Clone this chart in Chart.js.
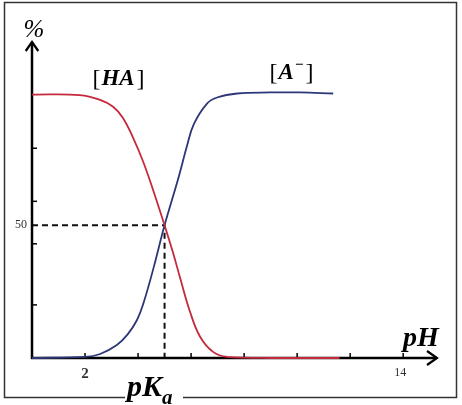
<!DOCTYPE html>
<html>
<head>
<meta charset="utf-8">
<script src="https://cdn.jsdelivr.net/npm/chart.js@4"></script>
<style>
  html, body { margin: 0; padding: 0; background: #fff; }
  canvas { display: block; }
</style>
</head>
<body>
<canvas id="chart" width="462" height="405"></canvas>
<script>
// [HA] fraction vs pH
const phHA = [0, 1.8, 2.57, 3.06, 3.43, 3.81, 4.19, 4.57, 5.0, 5.32, 5.58, 5.96, 6.34, 6.83, 7.36, 9.0, 11.6];
const pctHA = [99.2, 99.0, 97.2, 94.6, 90.4, 83.0, 74.0, 63.2, 50, 39.6, 30.4, 17.4, 8.0, 2.3, 0.4, 0, 0];

// [A-] fraction vs pH
const phA = [0, 2.0, 2.57, 3.2, 3.6, 3.96, 4.2, 4.6, 5.0, 5.5, 5.85, 6.1, 6.6, 6.98, 7.74, 8.98, 10.1, 11.36];
const pctA = [0, 0.4, 1.5, 4.9, 8.8, 14.3, 20.5, 34.5, 50, 67, 80, 88.0, 95.8, 98.1, 99.6, 100, 100, 99.6];

const pKa = 5;
const xTicks = [2, 4, 6, 8, 10, 12, 14];
const xTickLabels = { 2: '2', 14: '14' };
const yTicks = [20, 43, 50, 59, 79];
const yTickLabels = { 50: '50' };

const toPoints = (xs, ys) => xs.map((x, i) => ({ x: x, y: ys[i] }));

const SERIF = '"Liberation Serif", "DejaVu Serif", serif';

function arrowHead(ctx, x, y, dx, dy, size) {
    // open chevron pointing along (dx, dy)
    const px = -dy, py = dx;
    ctx.beginPath();
    ctx.moveTo(x - dx * size + px * size * 0.7, y - dy * size + py * size * 0.7);
    ctx.lineTo(x, y);
    ctx.lineTo(x - dx * size - px * size * 0.7, y - dy * size - py * size * 0.7);
    ctx.stroke();
}

const axesPlugin = {
    id: 'axes',
    beforeDatasetsDraw(chart) {
        const { ctx, chartArea: a, scales: { x, y } } = chart;
        const x0 = x.getPixelForValue(0);
        const y0 = y.getPixelForValue(0);
        ctx.save();

        // frame
        ctx.strokeStyle = '#333';
        ctx.lineWidth = 1.5;
        ctx.strokeRect(4.5, 2.5, 452, 395);

        // dashed guides at pKa / 50 %
        const xp = x.getPixelForValue(pKa);
        const yp = y.getPixelForValue(50);
        ctx.strokeStyle = '#111';
        ctx.lineWidth = 2;
        ctx.setLineDash([6, 4]);
        ctx.beginPath();
        ctx.moveTo(x0, yp);
        ctx.lineTo(xp, yp);
        ctx.lineTo(xp, y0);
        ctx.stroke();
        ctx.setLineDash([]);

        // axis lines
        ctx.strokeStyle = '#000';
        ctx.lineWidth = 2.5;
        ctx.beginPath();
        ctx.moveTo(x0, a.top);
        ctx.lineTo(x0, y0);
        ctx.lineTo(a.right + 2, y0);
        ctx.stroke();
        ctx.lineWidth = 2.2;
        arrowHead(ctx, x0, a.top, 0, -1, 9);
        arrowHead(ctx, a.right + 2, y0, 1, 0, 10);

        // tick marks
        ctx.lineWidth = 1.5;
        xTicks.forEach(v => {
            const px = x.getPixelForValue(v);
            ctx.beginPath();
            ctx.moveTo(px, y0);
            ctx.lineTo(px, y0 - 5);
            ctx.stroke();
        });
        yTicks.forEach(v => {
            const py = y.getPixelForValue(v);
            if (v !== 50) {
                ctx.beginPath();
                ctx.moveTo(x0, py);
                ctx.lineTo(x0 + 5, py);
                ctx.stroke();
            }
        });

        // tick labels
        ctx.fillStyle = '#333';
        ctx.textAlign = 'center';
        ctx.textBaseline = 'alphabetic';
        ctx.font = 'bold 15px ' + SERIF;
        ctx.fillText(xTickLabels[2], x.getPixelForValue(2), 378);
        ctx.font = '12px ' + SERIF;
        ctx.fillText(xTickLabels[14], x.getPixelForValue(14) - 3, 376);
        ctx.textAlign = 'right';
        ctx.textBaseline = 'middle';
        ctx.font = '12px ' + SERIF;
        ctx.fillText(yTickLabels[50], x0 - 5, yp);
        ctx.restore();
    },
    afterDraw(chart) {
        const { ctx } = chart;
        ctx.save();
        ctx.fillStyle = '#000';
        ctx.textBaseline = 'alphabetic';

        // "%" above y axis
        ctx.textAlign = 'center';
        ctx.font = 'italic 25px ' + SERIF;
        ctx.fillText('%', 34, 37);

        // curve labels
        drawBracketed(ctx, 'HA', '', 119, 86);
        drawBracketed(ctx, 'A', '\u2212', 292, 80);

        // "pH" at end of x axis
        ctx.textAlign = 'left';
        ctx.font = 'italic bold 28px ' + SERIF;
        ctx.fillText('pH', 403, 346);

        // "pKa" under the dashed guide, cutting the frame
        ctx.fillStyle = '#fff';
        ctx.fillRect(125, 378, 58, 27);
        ctx.fillStyle = '#000';
        ctx.font = 'italic bold 30px ' + SERIF;
        ctx.fillText('pK', 127, 396);
        const w = ctx.measureText('pK').width;
        ctx.font = 'italic bold 21px ' + SERIF;
        ctx.fillText('a', 127 + w, 404);
        ctx.restore();
    }
};

function drawBracketed(ctx, sym, sup, cx, base) {
    ctx.font = '24px ' + SERIF;
    const bw = ctx.measureText('[').width;
    ctx.font = 'italic bold 23px ' + SERIF;
    const sw = ctx.measureText(sym).width;
    ctx.font = 'bold 15px ' + SERIF;
    const uw = sup ? ctx.measureText(sup).width + 1 : 0;
    const total = bw * 2 + sw + uw + 4;
    let xx = cx - total / 2;
    ctx.textAlign = 'left';
    ctx.font = '24px ' + SERIF;
    ctx.fillText('[', xx, base);
    xx += bw + 1;
    ctx.font = 'italic bold 23px ' + SERIF;
    ctx.fillText(sym, xx, base - 1);
    xx += sw + 1;
    if (sup) {
        ctx.font = 'bold 15px ' + SERIF;
        ctx.fillText(sup, xx, base - 11);
        xx += uw;
    }
    ctx.font = '24px ' + SERIF;
    ctx.fillText(']', xx + 1, base);
}

new Chart(document.getElementById('chart').getContext('2d'), {
    type: 'line',
    data: {
        datasets: [
            {
                label: '[HA]',
                data: toPoints(phHA, pctHA),
                borderColor: '#c42a3c',
                borderWidth: 1.8,
                pointRadius: 0,
                tension: 0.4,
                clip: false,
            },
            {
                label: '[A-]',
                data: toPoints(phA, pctA),
                borderColor: '#2c3778',
                borderWidth: 1.8,
                pointRadius: 0,
                tension: 0.4,
                clip: false,
            },
        ],
    },
    options: {
        responsive: false,
        animation: false,
        layout: { padding: { left: 32, right: 27, top: 42, bottom: 47 } },
        scales: {
            x: { type: 'linear', min: 0, max: 15.2, display: false },
            y: { type: 'linear', min: 0, max: 119, display: false },
        },
        plugins: {
            legend: { display: false },
            tooltip: { enabled: false },
        },
    },
    plugins: [axesPlugin],
});
</script>
</body>
</html>
